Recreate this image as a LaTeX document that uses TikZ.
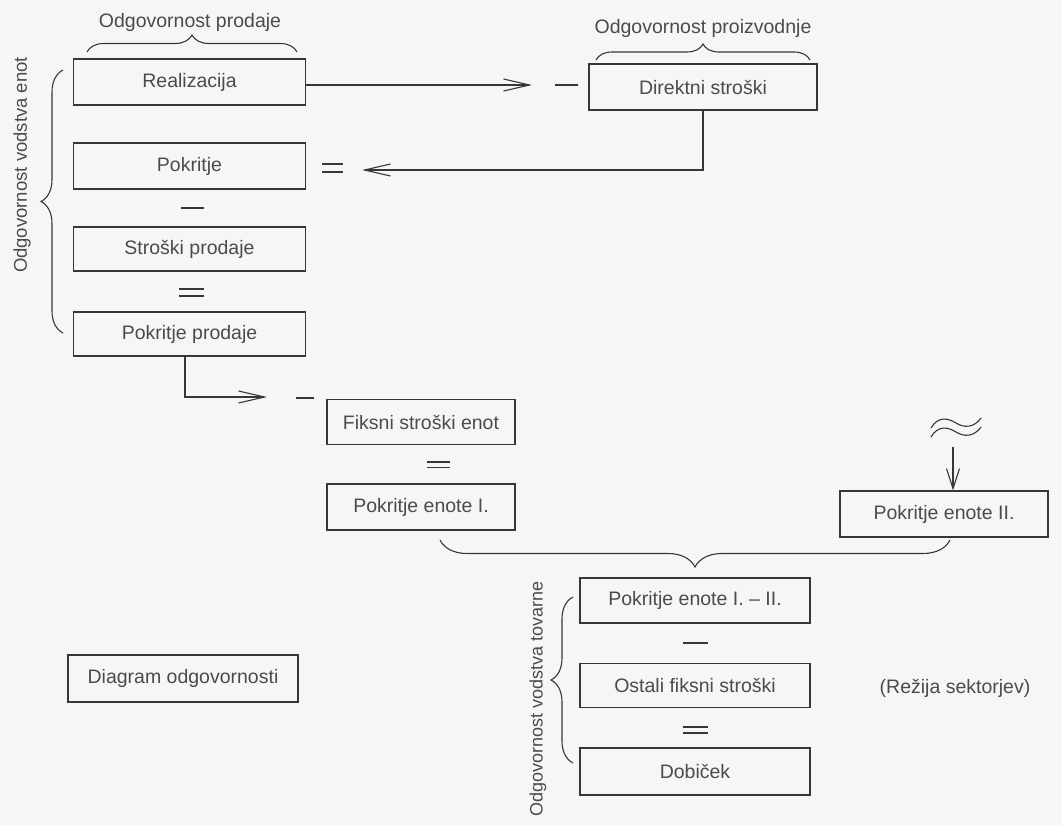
\documentclass[tikz,border=0pt]{standalone}
\usepackage{fontspec}
\setmainfont{Liberation Sans}
\usetikzlibrary{arrows.meta,decorations.pathreplacing}
\definecolor{bg}{RGB}{246,246,244}
\definecolor{ln}{RGB}{55,55,55}
\definecolor{tx}{RGB}{75,75,75}
\begin{document}
\begin{tikzpicture}[x=1pt,y=-1pt,
  font=\fontsize{19.5}{22}\selectfont,
  box/.style={draw=ln, line width=1.2pt, text=tx, inner sep=0pt,
    minimum height=46pt, minimum width=232pt},
  lbl/.style={text=tx, inner sep=0pt},
  conn/.style={draw=ln, line width=1.1pt},
  tipbarb/.style={-{Straight Barb[length=26pt,width=12pt,line width=1.1pt]}},
  brc/.style={draw=ln, line width=1.1pt, decorate, decoration={brace, amplitude=#1}},
  op/.style={draw=ln, line width=1.5pt}]
\useasboundingbox (0,0) rectangle (1062,825);
\fill[bg] (0,0) rectangle (1062,825);

% boxes
\node[box] (real) at (189.5,82) {Realizacija};
\node[box] (pok) at (189.5,166) {Pokritje};
\node[box, minimum height=44pt] (strp) at (189.5,249) {Stroški prodaje};
\node[box, minimum height=44pt] (pokp) at (189.5,334) {Pokritje prodaje};
\node[box, minimum width=228pt] (dir) at (703,87) {Direktni stroški};
\node[box, minimum width=188pt, minimum height=45pt] (fiks) at (421,422) {Fiksni stroški enot};
\node[box, minimum width=188pt] (pe1) at (421,507) {Pokritje enote I.};
\node[box, minimum width=208pt] (pe2) at (944,514) {Pokritje enote II.};
\node[box, minimum width=230pt, minimum height=45pt] (pe12) at (695,600.5) {Pokritje enote I. – II.};
\node[box, minimum width=230pt, minimum height=44pt] (ost) at (695,685.5) {Ostali fiksni stroški};
\node[box, minimum width=230pt, minimum height=47pt] (dob) at (695,771.5) {Dobiček};
\node[box, minimum width=230pt, minimum height=47pt] (diag) at (183,678.5) {Diagram odgovornosti};
\node[lbl] (rez) at (955,688) {(Režija sektorjev)};

% labels
\node[lbl] (lprod) at (190,22) {Odgovornost prodaje};
\node[lbl] (lproi) at (703,28) {Odgovornost proizvodnje};
\node[lbl, rotate=90, font=\fontsize{18.5}{21}\selectfont] (lenot) at (22,165) {Odgovornost vodstva enot};
\node[lbl, rotate=90, font=\fontsize{18}{21}\selectfont] (ltov) at (538,699) {Odgovornost vodstva tovarne};

% braces
\draw[brc=17pt] (87,52) -- (297,52);
\draw[brc=16pt] (596,60) -- (810,60);
\draw[brc=22pt] (63,333) -- (63,70);
\draw[brc=22pt] (573,763) -- (573,597);
\draw[brc=27pt] (950,540) -- (440,540);

% connectors
\coordinate (tA) at (532,85);
\draw[conn, tipbarb] (real.east |- tA) -- (tA);
\coordinate (tB) at (362,170);
\draw[conn, tipbarb] (dir.south) |- (tB);
\coordinate (c1) at (185,397);
\coordinate (tC) at (267,397);
\draw[conn, tipbarb] (pokp.south -| c1) -- (c1) -- (tC);
\coordinate (tD) at (953,447);
\draw[conn, -{Straight Barb[length=20pt,width=13pt,line width=1.1pt]}] (tD) -- (tD |- pe2.north);

% operators
\draw[op] (555,85) -- (578,85);
\draw[op] (296,398) -- (314,398);
\draw[op] (322,164) -- (343,164) (322,172) -- (343,172);
\draw[op] (181,208) -- (204,208);
\draw[op] (179,289) -- (204,289) (179,296) -- (204,296);
\draw[op] (427,462) -- (450,462) (427,467.5) -- (450,467.5);
\draw[op] (683,643) -- (708,643);
\draw[op] (683,727) -- (708,727) (683,733) -- (708,733);

% approx sign
\draw[conn] (931,428) .. controls (938,416) and (948,418) .. (956,423)
  .. controls (964,428) and (974,428) .. (981,418);
\draw[conn] (931,437) .. controls (938,425) and (948,427) .. (956,432)
  .. controls (964,437) and (974,437) .. (981,427);
\end{tikzpicture}
\end{document}
